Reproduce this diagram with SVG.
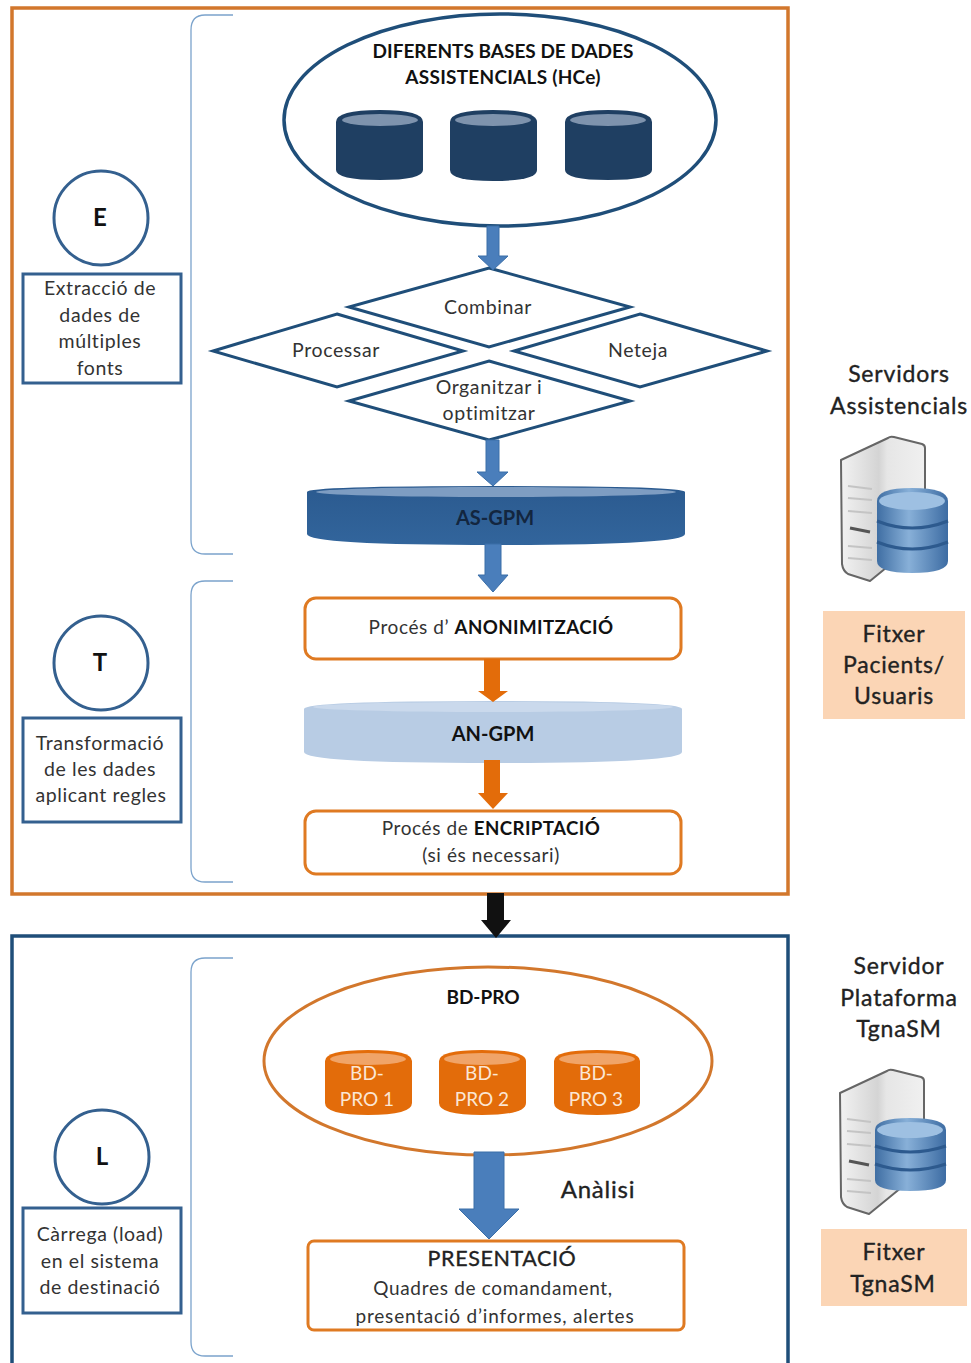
<svg xmlns="http://www.w3.org/2000/svg" width="971" height="1363" viewBox="0 0 971 1363">
<style>
text{font-family:Lato,"Liberation Sans",sans-serif;fill:#222;text-anchor:middle;font-size:20px}
.b{font-weight:700;fill:#111}
.t{font-size:19px}
.s{font-size:19.5px;letter-spacing:.6px;fill:#333}
.p{font-size:19px;letter-spacing:.6px;fill:#333}
.pb{font-weight:700;fill:#111;font-size:18.7px;letter-spacing:.4px}
.r{font-size:23px;letter-spacing:.8px;fill:#222;stroke:#222;stroke-width:.35}
.rh{font-size:21.5px;letter-spacing:.6px}
.w{fill:#fbe6d4;font-size:19px}
.L{font-size:24px}
.frameO{fill:#fff;stroke:#d2772c;stroke-width:3.5}
.frameB{fill:#fff;stroke:#1f4e79;stroke-width:3.5}
.circ{fill:#fff;stroke:#34608f;stroke-width:3}
.box{fill:#fff;stroke:#34608f;stroke-width:3}
.dia{fill:#fff;stroke:#1f4e79;stroke-width:3}
.proc{fill:#fff;stroke:#df7a22;stroke-width:3}
.brace{fill:none;stroke:#7ba3cc;stroke-width:1.3}
.navy{fill:#1f3f62}.navyT{fill:#7e93ad}
.org{fill:#e36c0a}.orgT{fill:#f0a468}
.arB{fill:#4a7ebb;stroke:#3a6ea8;stroke-width:1}
.arO{fill:#e36c0a}
.peach{fill:#fbd5b5}
</style>
<defs>
<linearGradient id="tower" x1="0" x2="1" y1="0" y2="0"><stop offset="0" stop-color="#f2f2f2"/><stop offset=".45" stop-color="#d4d4d4"/><stop offset=".55" stop-color="#e6e6e6"/><stop offset="1" stop-color="#f0f0f0"/></linearGradient>
<linearGradient id="dbg" x1="0" x2="1" y1="0" y2="0"><stop offset="0" stop-color="#3f6ea3"/><stop offset=".45" stop-color="#88b0d8"/><stop offset="1" stop-color="#3d6ca3"/></linearGradient>
<linearGradient id="asg" x1="0" x2="0" y1="0" y2="1"><stop offset="0" stop-color="#2b5a8f"/><stop offset="1" stop-color="#32659c"/></linearGradient>
<g id="srv">
<path d="M1 24 L48 2 Q50 0 54 1 L82 8 Q85 9 85 12 V100 L30 145 L8 138 Q3 135 2 128 Z" fill="url(#tower)" stroke="#666" stroke-width="2" stroke-linejoin="round"/>
<path d="M10 92 L30 96" stroke="#555" stroke-width="3"/>
<path d="M8 50 L32 53 M8 62 L32 64 M8 75 L32 77 M8 110 L32 112 M8 122 L32 124" stroke="#c4c4c4" stroke-width="2"/>
</g>
</defs>
<rect width="971" height="1363" fill="#fff"/>

<g id="frame-etl"><rect class="frameO" x="12" y="8" width="776" height="886"/></g>
<g id="frame-load"><rect class="frameB" x="12" y="936" width="776" height="440"/></g>

<g id="brace-e"><path class="brace" d="M233 15H205Q191 15 191 30V540Q191 554 205 554H233"/></g>
<g id="brace-t"><path class="brace" d="M233 581H205Q191 581 191 595V868Q191 882 205 882H233"/></g>
<g id="brace-l"><path class="brace" d="M233 958H205Q191 958 191 972V1342Q191 1356 205 1356H233"/></g>

<g id="circle-e"><circle class="circ" cx="101" cy="218" r="47"/><text class="b L" x="100" y="226">E</text></g>
<g id="box-e"><rect class="box" x="23" y="274" width="158" height="109"/><text class="s" x="100" y="295">Extracció de</text><text class="s" x="100" y="322">dades de</text><text class="s" x="100" y="348">múltiples</text><text class="s" x="100" y="375">fonts</text></g>
<g id="circle-t"><circle class="circ" cx="101" cy="663" r="47"/><text class="b L" x="100" y="671">T</text></g>
<g id="box-t"><rect class="box" x="23" y="718" width="158" height="104"/><text class="s" x="100" y="750">Transformació</text><text class="s" x="100" y="776">de les dades</text><text class="s" x="101" y="802">aplicant regles</text></g>
<g id="circle-l"><circle class="circ" cx="102" cy="1157" r="47"/><text class="b L" x="102" y="1165">L</text></g>
<g id="box-l"><rect class="box" x="23" y="1208" width="158" height="105"/><text class="s" x="100" y="1241">Càrrega (load)</text><text class="s" x="100" y="1268">en el sistema</text><text class="s" x="100" y="1294">de destinació</text></g>

<g id="sources">
<ellipse cx="500" cy="120" rx="216" ry="106" fill="#fff" stroke="#1f4e79" stroke-width="3.5"/>
<text class="b t" x="503" y="58">DIFERENTS BASES DE DADES</text>
<text class="b t" x="503" y="84" style="letter-spacing:.25px">ASSISTENCIALS (HCe)</text>
<g id="db1"><path class="navy" d="M336 122Q336 110 380 110Q423 110 423 122V170Q423 180 380 180Q336 180 336 170Z"/><ellipse class="navyT" cx="380" cy="120" rx="38" ry="6"/></g>
<g id="db2"><path class="navy" d="M450 122Q450 110 493 110Q537 110 537 122V170Q537 181 493 181Q450 181 450 170Z"/><ellipse class="navyT" cx="493" cy="120" rx="38" ry="6"/></g>
<g id="db3"><path class="navy" d="M565 122Q565 110 608 110Q652 110 652 122V170Q652 180 608 180Q565 180 565 170Z"/><ellipse class="navyT" cx="608" cy="120" rx="38" ry="6"/></g>
</g>

<g id="d-combinar"><polygon class="dia" points="489,268 630,307 489,347 349,307"/><text class="s" x="488" y="314">Combinar</text></g>
<g id="d-processar"><polygon class="dia" points="337,314 463,351 337,387 213,351"/><text class="s" x="336" y="357">Processar</text></g>
<g id="d-neteja"><polygon class="dia" points="640,314 767,351 640,387 514,351"/><text class="s" x="638" y="357">Neteja</text></g>
<g id="d-organitzar"><polygon class="dia" points="489,361 630,401 489,440 349,401"/><text class="s" x="489" y="394">Organitzar i</text><text class="s" x="489" y="420">optimitzar</text></g>

<g id="as-gpm"><path fill="url(#asg)" d="M307 492Q307 486 496 486Q685 486 685 492V534Q685 545 496 545Q307 545 307 534Z"/><ellipse cx="496" cy="492" rx="180" ry="5" fill="#7e9dc2"/><text class="b" x="495" y="525" style="fill:#13263f">AS-GPM</text></g>
<g id="anon"><rect class="proc" x="305" y="598" width="376" height="61" rx="11"/><text class="p" x="491" y="634">Procés d’ <tspan class="pb">ANONIMITZACIÓ</tspan></text></g>
<g id="an-gpm"><path fill="#b8cce4" d="M304 709Q304 701 493 701Q682 701 682 709V752Q682 763 493 763Q304 763 304 752Z"/><ellipse cx="493" cy="707" rx="180" ry="5" fill="#cad9ec"/><text class="b" x="493" y="741">AN-GPM</text></g>
<g id="encrip"><rect class="proc" x="305" y="811" width="376" height="63" rx="11"/><text class="p" x="491" y="835">Procés de <tspan class="pb">ENCRIPTACIÓ</tspan></text><text class="p" x="491" y="862">(si és necessari)</text></g>

<g id="bd-pro">
<ellipse cx="488" cy="1061" rx="224" ry="94" fill="#fff" stroke="#d2772c" stroke-width="3"/>
<text class="b t" x="483" y="1004">BD-PRO</text>
<g id="pro1"><path class="org" d="M325 1061Q325 1050 368 1050Q412 1050 412 1061V1103Q412 1115 368 1115Q325 1115 325 1103Z"/><ellipse class="orgT" cx="368" cy="1059" rx="38" ry="6"/><text class="w" x="367" y="1080">BD-</text><text class="w" x="367" y="1106">PRO 1</text></g>
<g id="pro2"><path class="org" d="M439 1061Q439 1050 482 1050Q526 1050 526 1061V1103Q526 1115 482 1115Q439 1115 439 1103Z"/><ellipse class="orgT" cx="482" cy="1059" rx="38" ry="6"/><text class="w" x="482" y="1080">BD-</text><text class="w" x="482" y="1106">PRO 2</text></g>
<g id="pro3"><path class="org" d="M554 1061Q554 1050 597 1050Q640 1050 640 1061V1103Q640 1115 597 1115Q554 1115 554 1103Z"/><ellipse class="orgT" cx="597" cy="1059" rx="38" ry="6"/><text class="w" x="596" y="1080">BD-</text><text class="w" x="596" y="1106">PRO 3</text></g>
</g>
<g id="analisi"><text class="r" x="598" y="1198" style="font-size:24px">Anàlisi</text></g>
<g id="presentacio"><rect class="proc" x="308" y="1241" width="376" height="89" rx="6"/><text class="r rh" x="502" y="1266">PRESENTACIÓ</text><text class="p" x="493" y="1295" style="letter-spacing:.7px">Quadres de comandament,</text><text class="p" x="495" y="1323" style="letter-spacing:.8px">presentació d’informes, alertes</text></g>

<g id="servidors"><text class="r" x="899" y="382">Servidors</text><text class="r" x="899" y="414">Assistencials</text></g>
<g id="server1"><use href="#srv" x="840" y="436"/><g transform="translate(877 488)"><path d="M0 13Q0 0 35 0Q71 0 71 13V73Q71 85 35 85Q0 85 0 73Z" fill="url(#dbg)"/><ellipse cx="35" cy="13" rx="33" ry="9" fill="#9ec0e2"/><path d="M0 33Q35 47 71 33M0 54Q35 68 71 54" fill="none" stroke="#2d5a8e" stroke-width="3"/></g></g>
<g id="fitxer1"><rect class="peach" x="823" y="611" width="142" height="108"/><text class="r" x="894" y="642">Fitxer</text><text class="r" x="894" y="673">Pacients/</text><text class="r" x="894" y="704">Usuaris</text></g>

<g id="servidor"><text class="r" x="899" y="974">Servidor</text><text class="r" x="899" y="1006">Plataforma</text><text class="r" x="899" y="1037">TgnaSM</text></g>
<g id="server2"><use href="#srv" x="839" y="1069"/><g transform="translate(875 1118)"><path d="M0 12Q0 0 35 0Q71 0 71 12V62Q71 73 35 73Q0 73 0 62Z" fill="url(#dbg)"/><ellipse cx="35" cy="12" rx="33" ry="8" fill="#9ec0e2"/><path d="M0 28Q35 40 71 28M0 46Q35 58 71 46" fill="none" stroke="#2d5a8e" stroke-width="3"/></g></g>
<g id="fitxer2"><rect class="peach" x="821" y="1229" width="146" height="77"/><text class="r" x="894" y="1260">Fitxer</text><text class="r" x="893" y="1292">TgnaSM</text></g>

<g id="connectors">
<path class="arB" d="M487 226H499V256H508L493 270L478 256H487Z"/>
<path class="arB" d="M486 440H499V472H508L493 486L477 472H486Z"/>
<path class="arB" d="M485 544H501V575H508L493 592L478 575H485Z"/>
<path class="arO" d="M484 659H500V691H508L493 702L478 691H484Z"/>
<path class="arO" d="M484 760H500V793H508L493 809L478 793H484Z"/>
<path fill="#111" d="M487 893H504V920H511L496 938L481 920H487Z"/>
<path class="arB" stroke-width="2" d="M474 1152H504V1209H519L489 1239L459 1209H474Z"/>
</g>
</svg>
